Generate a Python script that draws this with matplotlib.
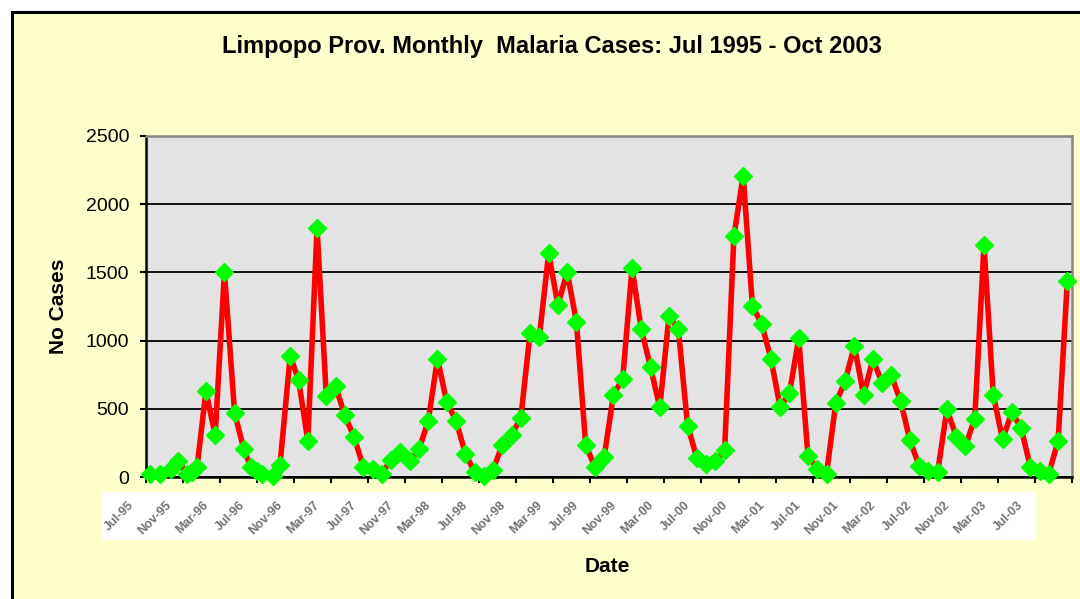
import numpy as np
import matplotlib
matplotlib.use("Agg")
import matplotlib.pyplot as plt
from matplotlib.patches import Rectangle
from matplotlib.transforms import ScaledTranslation

plt.rcParams['font.family'] = ['Liberation Sans', 'DejaVu Sans']

# month positions since Jul 1995 (a few extra readings early on)
months = [0.5, 1.5, 2.7, 3.5, 4.5, 5.05, 5.55, 6.5, 7.5, 8.5, 9.6, 10.6, 11.35,
          12.0, 12.6, 13.7, 14.5, 15.6, 16.5] + list(np.arange(17.5, 100, 1.0))

cases = [25, 25, 62, 116, 20, 37, 74, 628, 308, 1502, 468, 202, 74, 44, 20, 10, 91, 887, 714,
         266, 1825, 591, 665, 451, 291, 74, 62, 25, 128, 185, 116, 202, 411, 867, 549, 414,
         172, 37, 5, 54, 234, 305, 436, 1059, 1027, 1640, 1261, 1502, 1138, 234, 74, 150,
         603, 722, 1530, 1084, 805, 510, 1182, 1084, 377, 140, 94, 116, 197, 1765, 2210, 1256, 1121,
         867, 510, 616, 1017, 153, 62, 25, 542, 702, 961, 603, 862, 690, 746, 554, 271, 81,
         42, 37, 497, 296, 229, 426, 1700, 603, 276, 473, 362, 74, 42, 25, 264, 1438]

tick_months = list(range(0, 101, 4))
tick_labels = []
for yr in range(95, 104):
    for mon in ['Mar', 'Jul', 'Nov']:
        tick_labels.append(f"{mon}-{yr % 100:02d}")
tick_labels = tick_labels[1:26]  # Jul-95 ... Jul-03

yticks = [0, 500, 1000, 1500, 2000, 2500]

fig = plt.figure(figsize=(10.8, 5.99), dpi=100, facecolor='white')
fig.patches.append(Rectangle((12/1080, -0.05), 1.2, 1 - 12/599 + 0.05, transform=fig.transFigure,
                             fc='#FFFFCC', ec='black', lw=2.2, zorder=-5))

ax = fig.add_axes([145.7/1080, 1 - 477/599, (1072 - 145.7)/1080, (477 - 136)/599])
ax.set_facecolor('#E3E3E3')

ax.plot(months, cases, color='#FF0000', lw=4, marker='D', ms=9,
        mfc='#00FF00', mec='#00FF00', zorder=3, clip_on=False)

ax.set_xlim(0, 100)
ax.set_ylim(0, 2500)
ax.set_yticks(yticks)
ax.set_yticklabels([str(v) for v in yticks], fontsize=14)
ax.yaxis.grid(True, color='black', lw=1.3)
ax.set_axisbelow(True)

ax.set_xticks(tick_months)
ax.set_xticklabels([''] * len(tick_months))
ax.tick_params(axis='both', direction='out', length=4, width=1.5, color='black')
ax.tick_params(axis='y', pad=8)

# blurry date labels on a white strip
ax.add_patch(Rectangle((-0.047, -0.185), 1.007, 0.141, transform=ax.transAxes,
                       fc='white', ec='none', clip_on=False, zorder=1))
off = ScaledTranslation(-9/100, -22/100, fig.dpi_scale_trans)
for m, lab in zip(tick_months, tick_labels):
    ax.text(m, 0, lab, fontsize=9, color='#5a5a5a', fontweight='bold', rotation=45,
            ha='right', va='top', transform=ax.get_xaxis_transform() + off,
            clip_on=False, zorder=2, alpha=0.85)

for s in ['left', 'bottom']:
    ax.spines[s].set_color('black')
    ax.spines[s].set_linewidth(1.8)
for s in ['top', 'right']:
    ax.spines[s].set_color('#888888')
    ax.spines[s].set_linewidth(1.8)

ax.set_ylabel('No Cases', fontsize=15, fontweight='bold')
ax.yaxis.set_label_coords(-0.084, 0.5)
ax.set_xlabel('Date', fontsize=15, fontweight='bold')
ax.xaxis.set_label_coords(0.498, -0.235)

fig.text(552/1080, 1 - 47/599, 'Limpopo Prov. Monthly  Malaria Cases: Jul 1995 - Oct 2003',
         fontsize=17, fontweight='bold', ha='center', va='center',
         family=['Liberation Sans Narrow', 'Liberation Sans'])

fig.savefig('out.png', dpi=100, facecolor=fig.get_facecolor())
